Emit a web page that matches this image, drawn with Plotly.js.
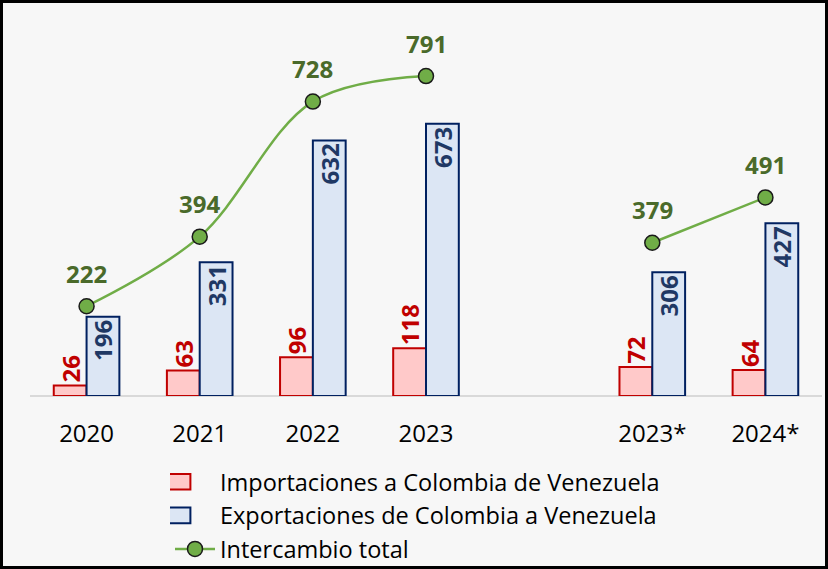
<!DOCTYPE html>
<html>
<head>
<meta charset="utf-8">
<script src="https://cdn.plot.ly/plotly-3.0.1.min.js"></script>
<style>
  html, body { margin: 0; padding: 0; background: #F7F7F7; }
  #wrap { position: relative; width: 828px; height: 569px; }
  #chart { width: 828px; height: 569px; }
  #frame { position: absolute; left: 0; top: 0; width: 828px; height: 569px; box-sizing: border-box; border: 3px solid #000; pointer-events: none; }
</style>
</head>
<body>
<div id="wrap"><div id="chart"></div><div id="frame"></div></div>
<script>
// Data
const categories = ['2020', '2021', '2022', '2023', ' ', '2023*', '2024*'];
const importaciones = [26, 63, 96, 118, null, 72, 64];
const exportaciones = [196, 331, 632, 673, null, 306, 427];
const intercambio = [222, 394, 728, 791, null, 379, 491];

const seriesNames = [
  'Importaciones a Colombia de Venezuela',
  'Exportaciones de Colombia a Venezuela',
  'Intercambio total'
];

const FONT = 'Open Sans, Noto Sans, sans-serif';
const idx = categories.map((c, i) => i);
const LABEL_SIZE = 24;
const GREEN_TEXT = '#4A6A2A';

const traces = [
  {
    type: 'bar', name: seriesNames[0], x: idx, y: importaciones,
    marker: { color: '#FFC9C9', line: { color: '#C00000', width: 2 } },
    text: importaciones.map(v => v == null ? '' : String(v)),
    textposition: 'outside', textangle: -90, cliponaxis: false,
    constraintext: 'none',
    outsidetextfont: { family: FONT, size: LABEL_SIZE, color: '#C00000', weight: 'bold' },
    hoverinfo: 'skip'
  },
  {
    type: 'bar', name: seriesNames[1], x: idx, y: exportaciones,
    marker: { color: '#DCE6F4', line: { color: '#002060', width: 2 } },
    text: exportaciones.map(v => v == null ? '' : String(v)),
    textposition: 'inside', insidetextanchor: 'end', textangle: -90,
    insidetextfont: { family: FONT, size: LABEL_SIZE, color: '#1F3864', weight: 'bold' },
    constraintext: 'none',
    hoverinfo: 'skip'
  },
  {
    type: 'scatter', mode: 'lines+markers', name: seriesNames[2], x: idx, y: intercambio,
    line: { color: '#70AD47', width: 2.5, shape: 'spline', smoothing: 1 },
    marker: { color: '#70AD47', size: 15, line: { color: '#1a1a1a', width: 1.5 } },
    cliponaxis: false,
    connectgaps: false,
    hoverinfo: 'skip'
  }
];

// value labels for the total line, anchored on the data points
const lineLabels = idx.filter(i => intercambio[i] != null).map(i => ({
  x: i, y: intercambio[i], xref: 'x', yref: 'y',
  text: String(intercambio[i]), showarrow: false, yshift: 33,
  font: { family: FONT, size: LABEL_SIZE, color: GREEN_TEXT, weight: 'bold' }
}));

const layout = {
  width: 828, height: 569,
  margin: { l: 30, r: 6, t: 32, b: 173, autoexpand: false },
  paper_bgcolor: '#F7F7F7', plot_bgcolor: '#F7F7F7',
  font: { family: FONT, color: '#000' },
  barmode: 'group', bargap: 0.42, bargroupgap: 0,
  showlegend: true,
  annotations: lineLabels,
  xaxis: {
    range: [-0.5, 6.5], tickvals: idx, ticktext: categories, tickangle: 0,
    showgrid: false, zeroline: false, showline: false,
    ticks: 'outside', ticklen: 16, tickcolor: 'rgba(0,0,0,0)',
    tickfont: { family: FONT, size: 24, color: '#000' }
  },
  yaxis: {
    range: [0, 900], visible: true, showgrid: false, showticklabels: false,
    zeroline: true, zerolinecolor: '#D9D9D9', zerolinewidth: 2, showline: false, ticks: ''
  },
  legend: {
    x: (170 - 30) / 792, y: -(460 - 396) / 364,
    xanchor: 'left', yanchor: 'top', orientation: 'v',
    bgcolor: 'rgba(0,0,0,0)', traceorder: 'normal',
    font: { family: FONT, size: 23.5, color: '#000' },
    itemwidth: 40
  }
};

Plotly.newPlot('chart', traces, layout, { displayModeBar: false, staticPlot: true }).then(gd => {
  // widen the bar swatches in the legend to the flat rectangles of the original
  gd.querySelectorAll('.legend .traces').forEach((tr, i) => {
    if (i < 2) {
      tr.querySelectorAll('.legendpoints path').forEach(p => {
        p.setAttribute('transform', 'scale(3.4,1.3)');
        p.style.vectorEffect = 'non-scaling-stroke';
      });
    }
  });
});
</script>
</body>
</html>
